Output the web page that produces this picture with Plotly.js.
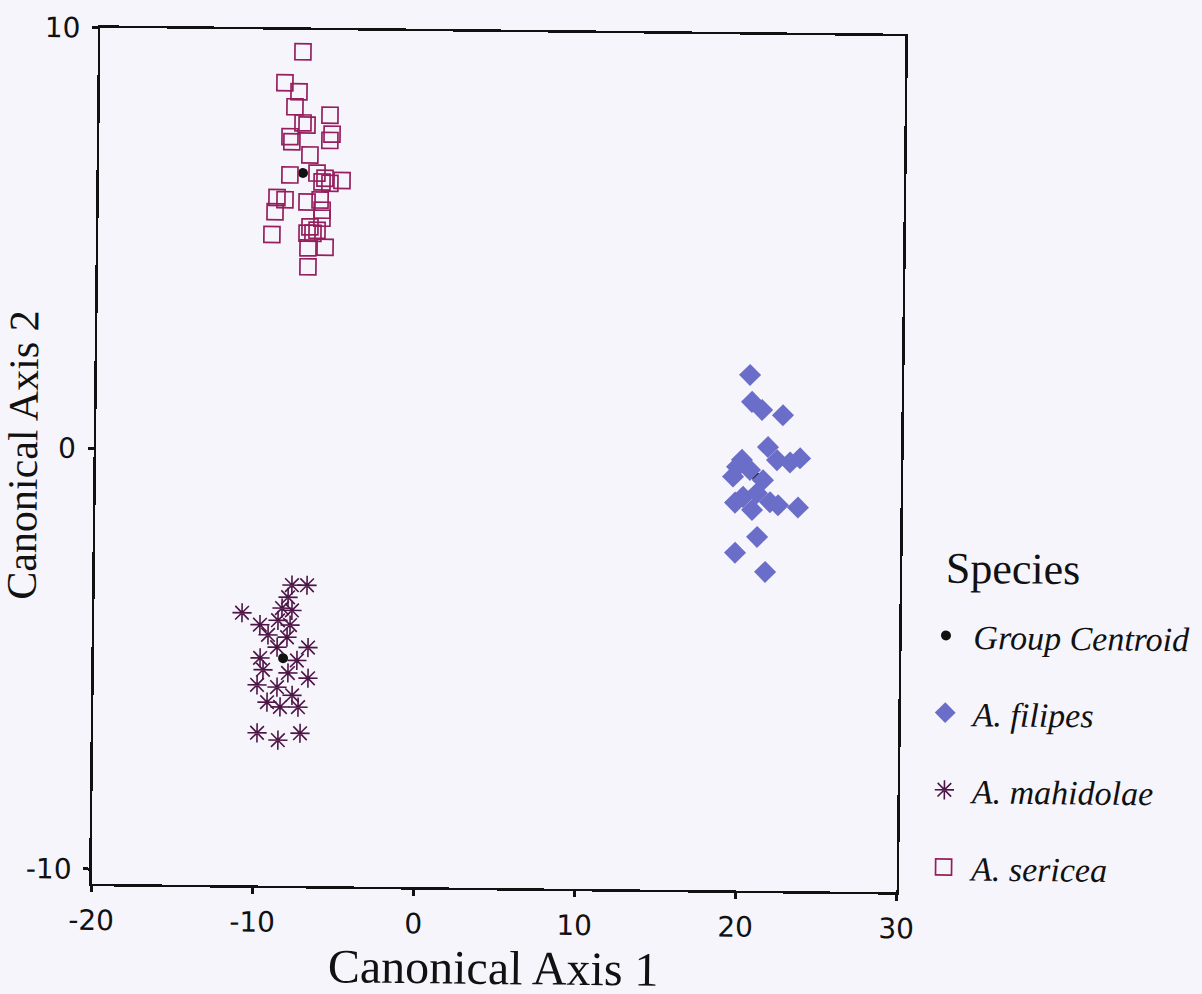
<!DOCTYPE html>
<html>
<head>
<meta charset="utf-8">
<script src="https://cdn.plot.ly/plotly-3.0.1.min.js"></script>
<style>
  html, body { margin: 0; padding: 0; background: #f6f5fc; }
  #chart { width: 1202px; height: 994px; transform: rotate(0.6deg); transform-origin: 498px 460px; }
</style>
</head>
<body>
<div id="chart"></div>
<script>
// Legend labels
const legendTitle = "Species";
const seriesNames = ["Group Centroid", "A. filipes", "A. mahidolae", "A. sericea"];

// Group centroids (Canonical Axis 1, Canonical Axis 2)
const centroidX = [21.07, -8.25, -7.33];
const centroidY = [-0.53, -4.94, 6.60];

// A. filipes
const filipesX = [20.57, 20.71, 21.34, 22.64, 21.73, 23.73, 23.11, 20.12, 22.30, 19.82, 20.63, 21.44,
                  19.58, 20.21, 21.07, 21.89, 19.72, 20.78, 22.39, 23.63, 21.11, 19.75, 21.63];
const filipesY = [1.91, 1.27, 1.08, 0.96, 0.20, -0.06, -0.16, -0.11, -0.11, -0.28, -0.35, -0.59,
                  -0.51, -0.99, -0.90, -1.11, -1.13, -1.30, -1.18, -1.23, -1.94, -2.32, -2.77];

// A. mahidolae
const mahidolaeX = [-7.75, -6.81, -7.98, -10.83, -8.35, -7.73, -9.71, -8.59, -7.84, -9.20, -8.02, -6.71,
                    -8.63, -9.68, -7.39, -9.49, -6.69, -7.94, -9.85, -8.61, -7.67, -7.29, -9.22, -8.41,
                    -9.82, -8.52, -7.15];
const mahidolaeY = [-3.20, -3.20, -3.49, -3.87, -3.75, -3.80, -4.15, -4.04, -4.15, -4.39, -4.44, -4.68,
                    -4.68, -4.94, -4.99, -5.22, -5.41, -5.29, -5.58, -5.63, -5.82, -6.10, -5.99, -6.10,
                    -6.72, -6.89, -6.72];

// A. sericea
const sericeaX = [-7.41, -8.51, -7.63, -7.87, -5.69, -7.36, -7.11, -5.55, -5.68, -8.16, -8.04, -6.91,
                  -8.14, -6.46, -5.96, -4.90, -5.65, -6.14, -8.93, -8.43, -7.06, -6.25, -9.04, -6.12,
                  -6.12, -6.86, -6.42, -9.22, -7.04, -6.67, -6.97, -5.91, -6.96];
const sericeaY = [9.48, 8.74, 8.53, 8.17, 7.98, 7.79, 7.74, 7.53, 7.38, 7.46, 7.34, 7.03,
                  6.55, 6.60, 6.48, 6.43, 6.36, 6.39, 6.01, 5.96, 5.91, 5.96, 5.67, 5.72,
                  5.53, 5.32, 5.24, 5.13, 5.17, 5.17, 4.82, 4.84, 4.37];

// Axis ticks
const xTicks = [-20, -10, 0, 10, 20, 30];
const yTicks = [-10, 0, 10];

const serif = "Liberation Serif, Times New Roman, serif";
const sans = "DejaVu Sans, Verdana, sans-serif";

const traces = [
  {
    type: "scatter", mode: "markers", name: "<i>" + seriesNames[0] + "</i>",
    x: centroidX, y: centroidY, legendgroup: "g0",
    marker: { symbol: "circle", size: 10, color: "#111111" }
  },
  {
    type: "scatter", mode: "markers", name: "<i>" + seriesNames[1] + "</i>",
    x: filipesX, y: filipesY, legendgroup: "g1",
    marker: { symbol: "diamond", size: 17, color: "#6a6ec8", line: { width: 0 } }
  },
  {
    type: "scatter", mode: "markers", name: "<i>" + seriesNames[2] + "</i>",
    x: mahidolaeX, y: mahidolaeY, legendgroup: "g2",
    marker: { symbol: "asterisk-open", size: 16, color: "#4d1545", line: { width: 1.6, color: "#4d1545" } }
  },
  {
    type: "scatter", mode: "markers", name: "<i>" + seriesNames[3] + "</i>",
    x: sericeaX, y: sericeaY, legendgroup: "g3",
    marker: { symbol: "square-open", size: 16, color: "#951f5e", line: { width: 1.7, color: "#951f5e" } }
  }
];

const layout = {
  width: 1202, height: 994,
  paper_bgcolor: "#f6f5fc", plot_bgcolor: "#f6f5fc",
  margin: { l: 96, r: 301, t: 32, b: 106, autoexpand: false },
  showlegend: true,
  legend: {
    x: 1.024, xanchor: "left", y: 0.334, yanchor: "top",
    bgcolor: "rgba(0,0,0,0)",
    traceorder: "grouped", tracegroupgap: 30,
    itemwidth: 45,
    font: { family: serif, size: 34, color: "#111111" },
    itemsizing: "trace"
  },
  annotations: [{
    text: legendTitle, xref: "paper", yref: "paper",
    x: 1.055, y: 0.379, xanchor: "left", yanchor: "middle", showarrow: false,
    font: { family: serif, size: 44, color: "#111111" }
  }],
  xaxis: {
    range: [-20, 30], tickvals: xTicks, ticktext: xTicks.map(String),
    showgrid: false, zeroline: false,
    showline: true, linecolor: "#111111", linewidth: 2.5, mirror: true,
    ticks: "outside", ticklen: 6, tickwidth: 3, tickcolor: "#111111",
    ticklabelstandoff: 4,
    tickfont: { family: sans, size: 28, color: "#111111" },
    title: { text: "Canonical Axis 1", font: { family: serif, size: 48, color: "#111111" }, standoff: 10 }
  },
  yaxis: {
    range: [-10.35, 10], tickvals: yTicks, ticktext: yTicks.map(String),
    showgrid: false, zeroline: false,
    showline: true, linecolor: "#111111", linewidth: 2.5, mirror: true,
    ticks: "outside", ticklen: 6, tickwidth: 3, tickcolor: "#111111",
    ticklabelstandoff: 6,
    tickfont: { family: sans, size: 28, color: "#111111" },
    title: { text: "Canonical Axis 2", font: { family: serif, size: 42, color: "#111111" }, standoff: 4 }
  }
};

Plotly.newPlot("chart", traces, layout, { displayModeBar: false, staticPlot: true });
</script>
</body>
</html>
